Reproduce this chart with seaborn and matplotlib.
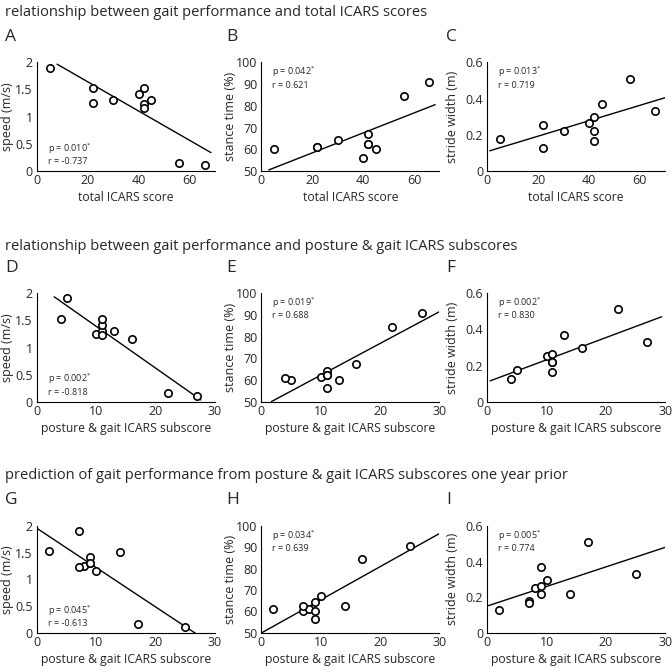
import numpy as np
import seaborn as sns
import matplotlib.pyplot as plt
import pandas as pd

# one entry per subject
total_icars = [5, 22, 22, 30, 40, 42, 42, 42, 45, 56, 66]
posture_sub = [5, 4, 10, 11, 11, 11, 11, 16, 13, 22, 27]
prior_sub = [7, 2, 8, 9, 9, 14, 7, 10, 9, 17, 25]
speed = [1.90, 1.53, 1.245, 1.31, 1.42, 1.52, 1.23, 1.155, 1.31, 0.16, 0.11]
stance = [60.0, 61.0, 61.3, 64.4, 56.3, 62.4, 62.4, 67.3, 60.2, 84.6, 90.8]
stride = [0.178, 0.128, 0.252, 0.22, 0.264, 0.22, 0.168, 0.298, 0.37, 0.51, 0.33]

row_titles = ["relationship between gait performance and total ICARS scores",
              "relationship between gait performance and posture & gait ICARS subscores",
              "prediction of gait performance from posture & gait ICARS subscores one year prior"]
p_vals = [["0.010", "0.042", "0.013"], ["0.002", "0.019", "0.002"], ["0.045", "0.034", "0.005"]]
r_vals = [["-0.737", "0.621", "0.719"], ["-0.818", "0.688", "0.830"], ["-0.613", "0.639", "0.774"]]
letters = ["ABC", "DEF", "GHI"]

df = pd.DataFrame({"total": total_icars, "sub": posture_sub, "prior": prior_sub,
                   "speed": speed, "stance": stance, "stride": stride})

sns.set_style("white")
plt.rcParams['font.family'] = ['Open Sans', 'DejaVu Sans']

fig = plt.figure(figsize=(6.72, 6.69), dpi=100)

xcols = ["total", "sub", "prior"]
xlabels = ["total ICARS score", "posture & gait ICARS subscore", "posture & gait ICARS subscore"]
xlims = [(0, 70), (0, 30), (0, 30)]
ycols = ["speed", "stance", "stride"]
ylabels = ["speed (m/s)", "stance time (%)", "stride width (m)"]
ylims = [(0, 2), (50, 100), (0, 0.6)]
yticks = [[0, 0.5, 1, 1.5, 2], [50, 60, 70, 80, 90, 100], [0, 0.2, 0.4, 0.6]]
yticklabels = [["0", "0.5", "1", "1.5", "2"], ["50", "60", "70", "80", "90", "100"],
               ["0", "0.2", "0.4", "0.6"]]
# x-extent of each fitted line
fit_span = [[(7.9, 68.4), (2.9, 68.3), (1, 70)],
            [(2.9, 27.6), (1.7, 30), (0.5, 29.4)],
            [(0, 26.7), (0, 30), (0.2, 30)]]

bottoms = [0.744, 0.399, 0.054]
heights = [0.163, 0.163, 0.160]
lefts = [0.055, 0.389, 0.725]
ylabel_x = [-0.13, -0.135, -0.16]
title_y = [0.982, 0.632, 0.289]
letter_y = [0.945, 0.599, 0.253]

for i in range(3):
    fig.text(0.007, title_y[i], row_titles[i], fontsize=10.5, va='center', ha='left')
    for j in range(3):
        ax = fig.add_axes([lefts[j], bottoms[i], 0.265, heights[i]])
        xc, yc = xcols[i], ycols[j]
        sns.scatterplot(data=df, x=xc, y=yc, ax=ax, marker='o', s=28,
                        facecolor='white', edgecolor='black', linewidth=1.2, zorder=3)
        slope, icpt = np.polyfit(df[xc], df[yc], 1)
        lx = np.array(fit_span[i][j])
        sns.lineplot(x=lx, y=slope * lx + icpt, ax=ax, color='black', linewidth=1)
        ax.set_xlim(*xlims[i])
        ax.set_ylim(*ylims[j])
        ax.set_yticks(yticks[j])
        ax.set_yticklabels(yticklabels[j])
        if xlims[i][1] == 70:
            ax.set_xticks([0, 20, 40, 60])
        else:
            ax.set_xticks([0, 10, 20, 30])
        ax.tick_params(direction='in', length=2, labelsize=9)
        ax.tick_params(axis='y', pad=3)
        ax.tick_params(axis='x', pad=2)
        for s in ['top', 'right']:
            ax.spines[s].set_visible(False)
        for s in ['left', 'bottom']:
            ax.spines[s].set_color('black')
            ax.spines[s].set_linewidth(0.8)
        ax.set_ylabel(ylabels[j], fontsize=9)
        ax.yaxis.set_label_coords(ylabel_x[j], 0.5)
        ax.set_xlabel(xlabels[i], fontsize=8.7, labelpad=3)
        if j == 0:
            ty = [0.21, 0.09]
        else:
            ty = [0.91, 0.79]
        ax.text(0.06, ty[0], "p = " + p_vals[i][j] + r"$^{*}$", transform=ax.transAxes,
                fontsize=6.5, va='center', ha='left')
        ax.text(0.06, ty[1], "r = " + r_vals[i][j], transform=ax.transAxes,
                fontsize=6.5, va='center', ha='left')
        fig.text([0.008, 0.337, 0.664][j], letter_y[i], letters[i][j], fontsize=12.5,
                 va='center', ha='left')

plt.savefig('out.png', dpi=100)
